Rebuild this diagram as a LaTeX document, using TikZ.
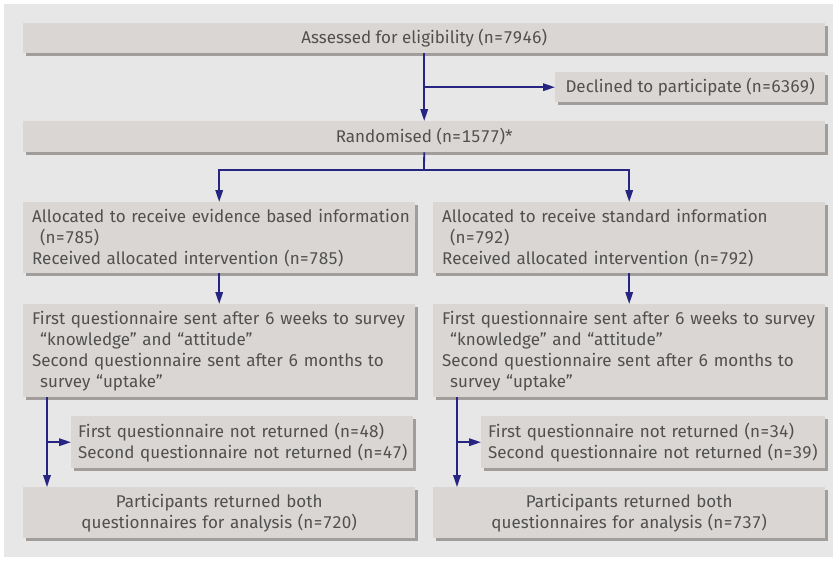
\documentclass[tikz,border=0pt]{standalone}
\usepackage{fontspec}
\setmainfont{Fira Sans}[Numbers=Monospaced]
\usetikzlibrary{arrows.meta,shadows}
\definecolor{bg}{RGB}{231,231,231}
\definecolor{boxfill}{RGB}{218,214,211}
\definecolor{shade}{RGB}{160,157,155}
\definecolor{arrowc}{RGB}{38,38,130}
\definecolor{txt}{RGB}{80,80,80}
\begin{document}
\begin{tikzpicture}[x=1pt,y=-1pt,
  box/.style={fill=boxfill, drop shadow={shadow xshift=3pt,shadow yshift=-3pt,fill=shade,opacity=1},
    anchor=north west, inner ysep=0pt, text=txt, font=\fontsize{17}{21}\selectfont},
  cbox/.style={box, inner xsep=0pt, align=center},
  lbox/.style={box, inner xsep=9pt, align=left},
  conn/.style={draw=arrowc, line width=1.8pt},
  arr/.style={conn, -{Triangle[length=12pt,width=7.5pt]}}
]
\useasboundingbox (0,0) rectangle (833,560);
\fill[white] (0,0) rectangle (833,560);
\fill[bg] (4,4) rectangle (833,557);

\node[cbox, minimum width=802pt, minimum height=30pt] (assess) at (23,23) {Assessed for eligibility (n=7946)};
\node[cbox, minimum width=270pt, minimum height=30pt] (declined) at (555,72) {Declined to participate (n=6369)};
\node[cbox, minimum width=802pt, minimum height=31pt] (random) at (23,121) {Randomised (n=1577)*};

\node[lbox, text width=374pt, minimum height=71pt] (allocL) at (23,202)
  {\mbox{Allocated to receive evidence based information}\\\hspace*{8pt}(n=785)\\Received allocated intervention (n=785)};
\node[lbox, text width=374pt, minimum height=71pt] (allocR) at (433,202)
  {Allocated to receive standard information\\\hspace*{8pt}(n=792)\\Received allocated intervention (n=792)};

\node[lbox, text width=374pt, minimum height=93pt] (questL) at (23,304)
  {\mbox{First questionnaire sent after 6 weeks to survey}\\\hspace*{8pt}“knowledge” and “attitude”\\\mbox{Second questionnaire sent after 6 months to}\\\hspace*{8pt}survey “uptake”};
\node[lbox, text width=374pt, minimum height=93pt] (questR) at (433,304)
  {\mbox{First questionnaire sent after 6 weeks to survey}\\\hspace*{8pt}“knowledge” and “attitude”\\\mbox{Second questionnaire sent after 6 months to}\\\hspace*{8pt}survey “uptake”};

\node[box, inner xsep=7pt, align=left, text width=328pt, minimum height=52pt] (notL) at (71,416)
  {\mbox{First questionnaire not returned (n=48)}\\\mbox{Second questionnaire not returned (n=47)}};
\node[box, inner xsep=7pt, align=left, text width=330pt, minimum height=52pt] (notR) at (481,416)
  {\mbox{First questionnaire not returned (n=34)}\\\mbox{Second questionnaire not returned (n=39)}};

\node[cbox, text width=392pt, minimum height=51pt] (partL) at (23,487)
  {Participants returned both\\questionnaires for analysis (n=720)};
\node[cbox, text width=392pt, minimum height=51pt] (partR) at (433,487)
  {Participants returned both\\questionnaires for analysis (n=737)};

% connectors
\coordinate (b1) at (assess.south |- declined.west);
\draw[arr] (assess.south) -- (random.north);
\draw[arr] (b1) -- (declined.west);

\coordinate (r1) at (424,170);
\coordinate (rl) at (allocL.north |- r1);
\coordinate (rr) at (allocR.north |- r1);
\draw[conn] (random.south) -- (r1);
\draw[arr] (r1) -- (rl) -- (allocL.north);
\draw[arr] (r1) -- (rr) -- (allocR.north);

\draw[arr] (allocL.south) -- (questL.north);
\draw[arr] (allocR.south) -- (questR.north);

\coordinate (ql) at (47,397);
\coordinate (qlb) at (ql |- notL.west);
\coordinate (pl) at (ql |- partL.north);
\draw[arr] (ql) -- (pl);
\draw[arr] (qlb) -- (notL.west);

\coordinate (qr) at (457,397);
\coordinate (qrb) at (qr |- notR.west);
\coordinate (pr) at (qr |- partR.north);
\draw[arr] (qr) -- (pr);
\draw[arr] (qrb) -- (notR.west);
\end{tikzpicture}
\end{document}
